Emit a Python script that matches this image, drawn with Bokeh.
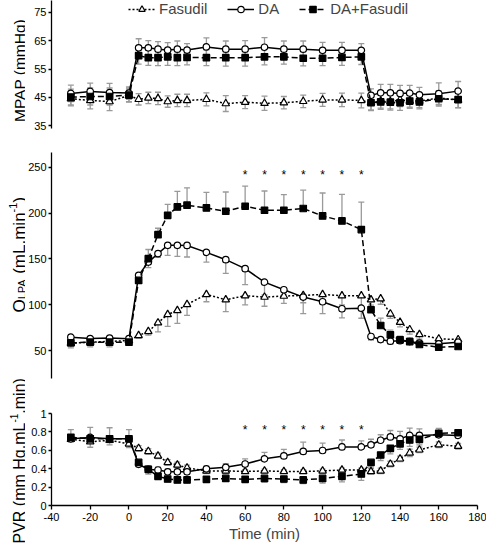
import numpy as np
from bokeh.plotting import figure
from bokeh.models import (ColumnDataSource, Whisker, TeeHead, Legend, LegendItem,
                          FixedTicker, Range1d)
from bokeh.layouts import column, row
from bokeh.embed import file_html
from bokeh.resources import INLINE
from bokeh.core.properties import value

# ---------------- data ----------------
time = [-30, -20, -10, 0, 5, 10, 15, 20, 25, 30, 40, 50, 60, 70, 80, 90, 100, 110, 120,
        125, 130, 135, 140, 145, 150, 160, 170]

mpap_fasudil = [44.5, 43.9, 43.5, 45.7, 44.3, 44.8, 44.6, 43.5, 43.9, 43.9, 44.3, 42.8, 43.3, 42.9,
                43.1, 43.6, 44.1, 44.1, 43.9, 43.1, 43.7, 43.5, 44.1, 43.7, 43.7, 44.8, 44.0]
mpap_da = [46.4, 47.1, 46.7, 46.5, 62.5, 62.5, 62.0, 61.7, 62.0, 61.7, 62.8, 62.0, 62.0, 62.7,
           62.0, 62.0, 61.6, 61.6, 61.6, 45.7, 46.6, 46.6, 46.4, 46.5, 45.9, 46.3, 47.2]
mpap_daf = [45.1, 45.3, 45.3, 45.8, 59.7, 59.0, 59.0, 59.3, 59.0, 59.1, 59.0, 59.0, 59.0, 59.3,
            59.3, 58.8, 58.8, 59.1, 59.3, 43.1, 43.4, 43.3, 43.1, 43.7, 43.4, 44.5, 44.2]
mpap_fasudil_err = [2.5, 3.0, 3.2, 2.2, 2.0, 2.0, 2.2, 2.0, 2.2, 2.2, 2.3, 2.8, 2.3, 2.5,
                    2.2, 2.2, 2.3, 2.4, 2.6, 2.8, 2.5, 2.6, 2.4, 2.2, 2.3, 2.5, 2.7]
mpap_da_err = [2.9, 2.9, 3.2, 2.2, 3.2, 2.5, 2.7, 2.6, 2.9, 2.3, 3.2, 2.9, 3.0, 3.4,
               2.9, 2.9, 2.8, 2.8, 2.4, 2.3, 3.0, 3.0, 2.8, 2.7, 2.6, 3.8, 3.4]
mpap_daf_err = [2.8, 3.0, 3.0, 2.5, 3.0, 2.7, 2.8, 3.0, 2.8, 2.6, 2.8, 3.0, 3.0, 2.8,
                2.6, 2.7, 2.6, 2.8, 2.7, 2.5, 2.6, 2.8, 2.7, 2.6, 2.5, 2.6, 2.8]

q_fasudil = [58.0, 59.1, 60.0, 60.8, 66.4, 70.8, 80.3, 89.3, 93.7, 100.3, 111.2, 105.4, 109.8, 108.3,
             109.4, 110.1, 111.2, 109.8, 109.8, 105.4, 106.5, 90.0, 80.9, 72.9, 67.5, 62.8, 62.0]
q_da = [64.6, 63.1, 63.6, 62.9, 132.0, 146.5, 155.7, 164.8, 164.8, 164.6, 157.1, 149.1, 139.3, 124.6,
        116.3, 108.3, 103.2, 95.6, 96.2, 65.3, 62.0, 60.2, 60.8, 59.8, 58.0, 57.3, 59.1]
q_daf = [58.4, 59.1, 59.1, 59.1, 126.5, 150.2, 176.4, 197.5, 206.6, 208.5, 205.6, 201.9, 207.4, 203.0,
         203.0, 204.9, 196.8, 191.4, 181.9, 94.5, 77.3, 67.2, 61.7, 59.8, 56.6, 53.6, 54.4]
q_fasudil_err = [5, 5, 6, 3, 3, 4, 10, 13, 14, 12, 8, 13, 10, 10, 8, 8, 6, 10, 12, 10, 6, 5, 5, 5, 5, 3, 3]
q_da_err = [3, 3, 3, 3, 8, 6, 4, 11, 12, 12.6, 10.6, 15, 17.5, 14, 5, 18, 13, 10, 11, 4, 3, 3, 3, 3, 3, 2, 2]
q_daf_err = [3, 3, 4, 3, 7, 10, 7, 12, 17, 19, 17, 21, 22, 21, 17, 20, 25, 29, 30, 5, 8, 5, 4, 4, 3, 3, 3]

pvr_fasudil = [0.719, 0.693, 0.709, 0.670, 0.621, 0.588, 0.539, 0.468, 0.441, 0.409, 0.376, 0.376, 0.370,
               0.376, 0.370, 0.370, 0.376, 0.386, 0.386, 0.370, 0.376, 0.451, 0.507, 0.572, 0.605, 0.660, 0.644]
pvr_da = [0.725, 0.740, 0.725, 0.725, 0.448, 0.392, 0.386, 0.366, 0.366, 0.366, 0.399, 0.415, 0.451,
          0.507, 0.539, 0.588, 0.598, 0.637, 0.637, 0.660, 0.709, 0.745, 0.725, 0.762, 0.762, 0.768, 0.762]
pvr_daf = [0.742, 0.725, 0.725, 0.725, 0.468, 0.392, 0.317, 0.288, 0.278, 0.278, 0.284, 0.294, 0.284,
           0.294, 0.288, 0.278, 0.294, 0.317, 0.343, 0.468, 0.549, 0.621, 0.670, 0.712, 0.719, 0.784, 0.791]
pvr_fasudil_err = [0.03, 0.06, 0.05, 0.04, 0.03, 0.03, 0.03, 0.03, 0.03, 0.03, 0.03, 0.03, 0.02, 0.02,
                   0.02, 0.02, 0.02, 0.02, 0.02, 0.03, 0.03, 0.03, 0.03, 0.04, 0.03, 0.03, 0.03]
pvr_da_err = [0.10, 0.11, 0.12, 0.10, 0.04, 0.04, 0.03, 0.03, 0.03, 0.03, 0.03, 0.04, 0.055, 0.07,
              0.07, 0.10, 0.08, 0.075, 0.065, 0.06, 0.06, 0.07, 0.08, 0.08, 0.07, 0.07, 0.06]
pvr_daf_err = [0.04, 0.04, 0.04, 0.04, 0.04, 0.05, 0.03, 0.03, 0.03, 0.03, 0.03, 0.03, 0.03, 0.04,
               0.04, 0.04, 0.05, 0.06, 0.07, 0.05, 0.06, 0.06, 0.06, 0.07, 0.06, 0.04, 0.04]

star_times = [60, 70, 80, 90, 100, 110, 120]
q_star_level = 241
pvr_star_level = 0.82

x_ticks = [-40, -20, 0, 20, 40, 60, 80, 100, 120, 140, 160, 180]
mpap_ticks = [35, 45, 55, 65, 75]
q_ticks = [50, 100, 150, 200, 250]
pvr_ticks = [0.0, 0.2, 0.4, 0.6, 0.8, 1.0]

series_names = ["Fasudil", "DA", "DA+Fasudil"]

# ---------------- styling ----------------
FONT = "Liberation Sans"
GREY = "#9a9a9a"
TOTAL_W = 486
TOTAL_H = 544
STRIP_W = 25
W = TOTAL_W - STRIP_W
LEFT = 24
RIGHT = 9

STYLE = {
    "Fasudil": dict(dash="2 2", marker="triangle", fill="white", size=7.5),
    "DA": dict(dash="solid", marker="circle", fill="white", size=6.5),
    "DA+Fasudil": dict(dash="6 3", marker="square", fill="black", size=6.5),
}


def make_fig(height, yr, yticks, btop, bbot, show_x):
    p = figure(width=W, height=height, x_range=Range1d(-40, 180), y_range=Range1d(*yr),
               output_backend="svg", toolbar_location=None,
               min_border_left=LEFT, min_border_right=RIGHT,
               min_border_top=btop, min_border_bottom=bbot)
    p.grid.visible = False
    p.outline_line_color = None
    for ax in p.yaxis:
        ax.ticker = FixedTicker(ticks=yticks)
        ax.minor_tick_line_color = None
        ax.major_tick_in = 0
        ax.major_tick_out = 3
        ax.major_label_text_font = FONT
        ax.major_label_text_font_size = "11px"
        ax.major_label_text_color = "black"
        ax.major_label_standoff = 2
        ax.axis_line_color = "black"
        ax.axis_line_width = 1.3
        ax.major_tick_line_width = 1.3
    for ax in p.xaxis:
        if show_x:
            ax.ticker = FixedTicker(ticks=x_ticks)
            ax.major_label_overrides = {t: str(t) for t in x_ticks}
            ax.minor_tick_line_color = None
            ax.major_tick_in = 0
            ax.major_tick_out = 4
            ax.major_label_text_font = FONT
            ax.major_label_text_font_size = "11px"
            ax.major_label_text_color = "black"
            ax.major_label_standoff = 3
            ax.axis_line_color = "black"
            ax.axis_line_width = 1.3
            ax.major_tick_line_width = 1.3
            ax.axis_label = "Time (min)"
            ax.axis_label_text_font = FONT
            ax.axis_label_text_font_size = "15px"
            ax.axis_label_text_font_style = "normal"
            ax.axis_label_standoff = 1
        else:
            ax.visible = False
    return p


def add_series(p, name, vals, errs, direction):
    st = STYLE[name]
    v = np.array(vals, dtype=float)
    e = np.array(errs, dtype=float)
    up = v + e if direction in ("up", "both") else v
    lo = v - e if direction in ("down", "both") else v
    src = ColumnDataSource(dict(x=time, y=vals, upper=up, lower=lo))
    w = Whisker(source=src, base="x", upper="upper", lower="lower", line_color=GREY, line_width=1.3,
                upper_head=TeeHead(size=6, line_color=GREY, line_width=1.3) if direction in ("up", "both") else None,
                lower_head=TeeHead(size=6, line_color=GREY, line_width=1.3) if direction in ("down", "both") else None)
    p.add_layout(w)
    lr = p.line("x", "y", source=src, line_color="black", line_width=1.5, line_dash=st["dash"])
    sr = p.scatter("x", "y", source=src, marker=st["marker"], size=st["size"], fill_color=st["fill"],
                   line_color="black", line_width=1.2)
    return [lr, sr]


# ---------------- top: MPAP ----------------
# range runs a little above the top tick so the legend sits inside the frame, as in the reference
mp_range = (34, 79.2)
p1 = make_fig(140, mp_range, mpap_ticks, 0, 12, False)
r_f = add_series(p1, "Fasudil", mpap_fasudil, mpap_fasudil_err, "both")
r_d = add_series(p1, "DA", mpap_da, mpap_da_err, "both")
r_df = add_series(p1, "DA+Fasudil", mpap_daf, mpap_daf_err, "both")

legend = Legend(items=[LegendItem(label=series_names[0], renderers=r_f),
                       LegendItem(label=series_names[1], renderers=r_d),
                       LegendItem(label=series_names[2], renderers=r_df)],
                orientation="horizontal", location=(77, 111),
                label_text_font=FONT, label_text_font_size="15px",
                glyph_width=27, glyph_height=16, label_standoff=4, spacing=20,
                padding=0, margin=0, background_fill_alpha=0, border_line_alpha=0)
p1.add_layout(legend)

# ---------------- middle: Q LPA ----------------
q_range = (19.5, 266)
p2 = make_fig(245, q_range, q_ticks, 12, 7, False)
add_series(p2, "Fasudil", q_fasudil, q_fasudil_err, "down")
add_series(p2, "DA", q_da, q_da_err, "down")
add_series(p2, "DA+Fasudil", q_daf, q_daf_err, "up")
p2.text(x=star_times, y=[q_star_level] * len(star_times), text=["*"] * len(star_times),
        text_font=value(FONT), text_font_size="12px", text_align="center", text_baseline="middle",
        text_color="black")

# ---------------- bottom: PVR ----------------
pvr_range = (0, 1.0)
p3 = make_fig(159, pvr_range, pvr_ticks, 28, 37, True)
add_series(p3, "Fasudil", pvr_fasudil, pvr_fasudil_err, "both")
add_series(p3, "DA", pvr_da, pvr_da_err, "up")
add_series(p3, "DA+Fasudil", pvr_daf, pvr_daf_err, "down")
p3.text(x=star_times, y=[pvr_star_level] * len(star_times), text=["*"] * len(star_times),
        text_font=value(FONT), text_font_size="12px", text_align="center", text_baseline="middle",
        text_color="black")

# ---------------- left strip holding the rotated y-axis titles ----------------
strip = figure(width=STRIP_W, height=TOTAL_H, x_range=Range1d(0, STRIP_W), y_range=Range1d(0, TOTAL_H),
               output_backend="svg", toolbar_location=None, x_axis_location=None, y_axis_location=None,
               min_border=0, min_border_left=0, min_border_right=0, min_border_top=0, min_border_bottom=0)
strip.grid.visible = False
strip.outline_line_color = None


def title_piece(text, size, base_x, start_y_from_top, align="left"):
    strip.text(x=[base_x], y=[TOTAL_H - start_y_from_top], text=[text], angle=np.pi / 2,
               text_font=value(FONT), text_font_size=value(size), text_align=align,
               text_baseline="alphabetic", text_color="black")


MAIN_X = 18.5
# MPAP (mmHg), centred on the top panel
title_piece("MPAP (mmHg)", "15.5px", MAIN_X, 70, align="center")
# Q_LPA (mL.min^-1)
title_piece("Q", "17px", MAIN_X, 312)
title_piece("LPA", "11px", MAIN_X + 3, 298.8)
title_piece("(mL.min", "17px", MAIN_X, 273.3)
title_piece("-1", "11px", MAIN_X - 6, 211.9)
title_piece(")", "17px", MAIN_X, 202.1)
# PVR (mm Hg.mL^-1.min)
title_piece("PVR (mm Hg.mL", "16px", MAIN_X, 543)
title_piece("-1", "10px", MAIN_X - 5.5, 422.1)
title_piece(".min)", "16px", MAIN_X, 413.2)

layout = row(strip, column(p1, p2, p3, spacing=0), spacing=0)
open("out.html", "w").write(file_html(layout, INLINE))
